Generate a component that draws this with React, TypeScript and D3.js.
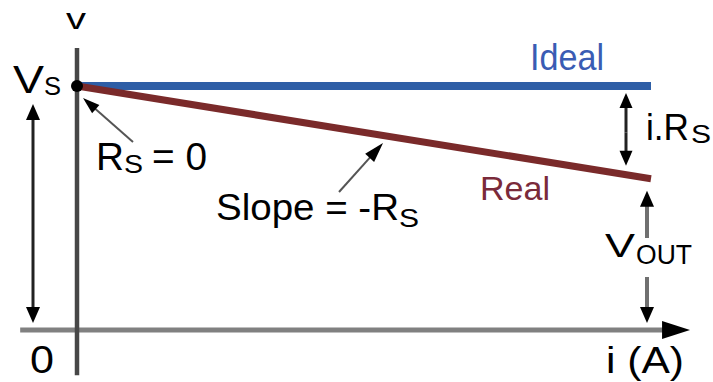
import React from "react";
import * as d3 from "d3";

// ---- data ----
const currents = [0, 1]; // i (normalised)
const idealV = [1, 1]; // Ideal: v = Vs
const realV = [1, 0.62]; // Real: v = Vs - i.Rs
const xAxisLabel = "i (A)";
const yAxisLabel = "v";
const originLabel = "0";

const W = 713;
const H = 382;

const xScale = d3.scaleLinear().domain([0, 1]).range([77, 651]);
const yScale = d3.scaleLinear().domain([0, 1]).range([330, 86]);

const FONT = "'Liberation Sans', Arial, sans-serif";

type Pt = [number, number];

function ArrowHead({ tip, from, len, width }: { tip: Pt; from: Pt; len: number; width: number }) {
  const dx = tip[0] - from[0];
  const dy = tip[1] - from[1];
  const d = Math.hypot(dx, dy);
  const ux = dx / d;
  const uy = dy / d;
  const bx = tip[0] - ux * len;
  const by = tip[1] - uy * len;
  const px = -uy * (width / 2);
  const py = ux * (width / 2);
  const pts = `${tip[0]},${tip[1]} ${bx + px},${by + py} ${bx - px},${by - py}`;
  return <polygon points={pts} fill="#000" />;
}

function Arrow({ from, tip, stroke, sw, len, width }: { from: Pt; tip: Pt; stroke: string; sw: number; len: number; width: number }) {
  const dx = tip[0] - from[0];
  const dy = tip[1] - from[1];
  const d = Math.hypot(dx, dy);
  const ex = tip[0] - (dx / d) * (len * 0.8);
  const ey = tip[1] - (dy / d) * (len * 0.8);
  return (
    <g>
      <line x1={from[0]} y1={from[1]} x2={ex} y2={ey} stroke={stroke} strokeWidth={sw} />
      <ArrowHead tip={tip} from={from} len={len} width={width} />
    </g>
  );
}

function T({ x, y, size, len, fill = "#000", children }: { x: number; y: number; size: number; len?: number; fill?: string; children: string }) {
  return (
    <text
      x={x}
      y={y}
      fontSize={size}
      fill={fill}
      fontFamily={FONT}
      textLength={len}
      lengthAdjust={len ? "spacingAndGlyphs" : undefined}
    >
      {children}
    </text>
  );
}

export default function App() {
  const line = d3
    .line<number>()
    .x((_, i) => xScale(currents[i]))
    .y((v) => yScale(v));

  const x0 = xScale(0);
  const x1 = xScale(1);
  const y0 = yScale(0);
  const yVs = yScale(idealV[0]);
  const yRealEnd = yScale(realV[realV.length - 1]);

  // axis extents
  const axisLeft = xScale(-0.099);
  const axisRight = xScale(1.068);
  const vTop = yScale(1.156);
  const vBottom = yScale(-0.185);

  // Vs arrow (outside, left)
  const vsX = 33;
  // i.Rs arrow
  const irsX = 626;
  // Vout arrow
  const voX = x1 - 4;

  return (
    <div style={{ position: "absolute", left: 0, top: 0, width: W, height: H, background: "#fff" }}>
      <svg width={W} height={H} viewBox={`0 0 ${W} ${H}`} style={{ display: "block" }}>
        <rect width={W} height={H} fill="#fff" />

        {/* axes */}
        <line x1={axisLeft} y1={y0} x2={axisRight - 20} y2={y0} stroke="#808080" strokeWidth={5} />
        <polygon points={`${axisRight},${y0} ${axisRight - 28},${y0 - 9} ${axisRight - 28},${y0 + 9}`} fill="#000" />
        <line x1={x0} y1={vTop} x2={x0} y2={vBottom} stroke="#474747" strokeWidth={4.5} />

        {/* Ideal and Real lines */}
        <path d={line(idealV) || ""} fill="none" stroke="#2e5ea6" strokeWidth={8} />
        <path d={line(realV) || ""} fill="none" stroke="#7a2a2a" strokeWidth={7} />
        <circle cx={x0} cy={yVs} r={6} fill="#000" />

        {/* Vs double arrow */}
        <Arrow from={[vsX, (yVs + y0) / 2]} tip={[vsX, yVs + 18]} stroke="#222" sw={3} len={16} width={14} />
        <Arrow from={[vsX, (yVs + y0) / 2]} tip={[vsX, y0 - 7]} stroke="#222" sw={3} len={16} width={14} />

        {/* i.Rs double arrow */}
        <Arrow from={[irsX, (yVs + yRealEnd) / 2]} tip={[irsX, yVs + 7]} stroke="#222" sw={3} len={15} width={13} />
        <Arrow from={[irsX, (yVs + yRealEnd) / 2]} tip={[irsX, yRealEnd - 13]} stroke="#222" sw={3} len={15} width={13} />

        {/* Vout arrows */}
        <Arrow from={[voX, 238]} tip={[voX, yRealEnd + 12]} stroke="#707070" sw={4} len={16} width={14} />
        <Arrow from={[voX, 277]} tip={[voX, y0 - 7]} stroke="#707070" sw={4} len={16} width={14} />

        {/* pointer arrows */}
        <Arrow from={[133, 142]} tip={[83, 98]} stroke="#555" sw={2} len={17} width={11} />
        <Arrow from={[339, 192]} tip={[383, 143]} stroke="#555" sw={2} len={20} width={12} />

        {/* labels */}
        <T x={66} y={29} size={30} len={20}>{yAxisLabel}</T>
        <T x={13} y={93} size={39} len={31}>V</T>
        <T x={44} y={95} size={26} len={17}>S</T>

        <T x={96} y={170} size={38} len={28}>R</T>
        <T x={124} y={173} size={26} len={19}>S</T>
        <T x={152} y={170} size={38} len={55}>= 0</T>

        <T x={216} y={220} size={37} len={183}>Slope = -R</T>
        <T x={399} y={227} size={26} len={20}>S</T>

        <T x={530} y={70} size={36} len={74} fill="#3a5cb4">Ideal</T>
        <T x={480} y={200} size={33} len={70} fill="#7a2a3a">Real</T>

        <T x={646} y={140} size={37} len={43}>i.R</T>
        <T x={691} y={143} size={26} len={20}>S</T>

        <T x={605} y={257} size={33} len={30}>V</T>
        <T x={636} y={264} size={27} len={56}>OUT</T>

        <T x={606} y={373} size={36} len={78}>{xAxisLabel}</T>
        <T x={30} y={373} size={39} len={24}>{originLabel}</T>
      </svg>
    </div>
  );
}
